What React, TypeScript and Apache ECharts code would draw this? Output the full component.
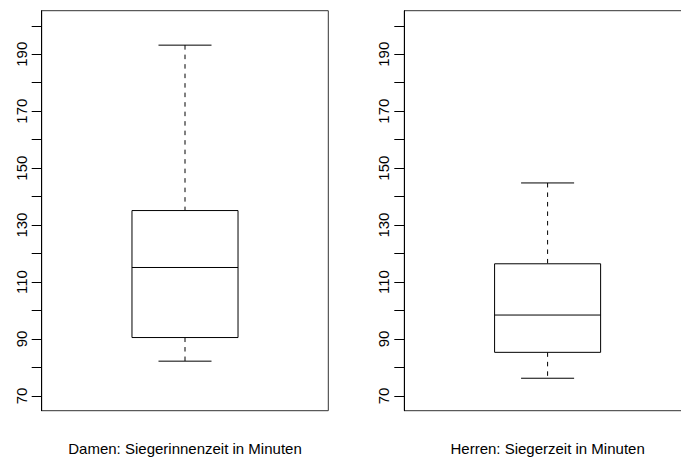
import React, { useEffect, useRef } from "react";
import * as echarts from "echarts";

const categoriesDamen = ["Damen: Siegerinnenzeit in Minuten"];
const categoriesHerren = ["Herren: Siegerzeit in Minuten"];
// [min whisker, Q1, median, Q3, max whisker]
const statsDamen = [82.2, 90.5, 115.1, 135.1, 193.2];
const statsHerren = [76.2, 85.3, 98.4, 116.4, 144.8];
const tickValues = [70, 80, 90, 100, 110, 120, 130, 140, 150, 160, 170, 180, 190, 200];
const labelValues = [70, 90, 110, 130, 150, 170, 190];
const yMin = 64.8;
const yMax = 205.3;

const FONT = "'Liberation Sans', Arial, Helvetica, sans-serif";
const STROKE = "#000";

function renderBox(params: any, api: any) {
  const x = api.value(0);
  const lo = api.coord([x, api.value(1)]);
  const q1 = api.coord([x, api.value(2)]);
  const med = api.coord([x, api.value(3)]);
  const q3 = api.coord([x, api.value(4)]);
  const hi = api.coord([x, api.value(5)]);
  const band = api.size([1, 0])[0];
  const bw = band * 0.37;
  const cw = bw * 0.5;
  const cx = med[0];
  const dash = { stroke: STROKE, lineWidth: 1, lineDash: [4.5, 5] };
  const solid = { stroke: STROKE, lineWidth: 1 };
  return {
    type: "group",
    children: [
      { type: "line", shape: { x1: cx, y1: hi[1], x2: cx, y2: q3[1] }, style: dash },
      { type: "line", shape: { x1: cx, y1: q1[1], x2: cx, y2: lo[1] }, style: dash },
      { type: "line", shape: { x1: cx - cw / 2, y1: hi[1], x2: cx + cw / 2, y2: hi[1] }, style: solid },
      { type: "line", shape: { x1: cx - cw / 2, y1: lo[1], x2: cx + cw / 2, y2: lo[1] }, style: solid },
      {
        type: "rect",
        shape: { x: cx - bw / 2, y: q3[1], width: bw, height: q1[1] - q3[1] },
        style: { fill: "#fff", stroke: STROKE, lineWidth: 1 },
      },
      { type: "line", shape: { x1: cx - bw / 2, y1: med[1], x2: cx + bw / 2, y2: med[1] }, style: solid },
    ],
  };
}

export default function App() {
  const ref = useRef<HTMLDivElement>(null);
  useEffect(() => {
    document.body.style.margin = "0";
    const chart = echarts.init(ref.current!, null, { renderer: "svg" });
    const grids = [
      { left: 41.7, top: 10.7, width: 286.6, height: 400 },
      { left: 404.3, top: 10.7, width: 286.6, height: 400 },
    ].map((g) => ({
      ...g,
      show: true,
      borderColor: "#333",
      borderWidth: 1,
      backgroundColor: "transparent",
      containLabel: false,
      outerBoundsMode: "none",
    }));

    const mkX = (idx: number, cats: string[]) => ({
      type: "category",
      gridIndex: idx,
      data: cats,
      axisLine: { show: false },
      axisTick: { show: false },
      axisLabel: { fontSize: 15, fontFamily: FONT, color: "#000", margin: 30 },
    });
    const mkY = (idx: number) => ({
      type: "value",
      gridIndex: idx,
      min: yMin,
      max: yMax,
      splitLine: { show: false },
      axisLine: { show: true, lineStyle: { color: "#000", width: 1 } },
      axisTick: { show: true, inside: false, length: 10, lineStyle: { color: "#000", width: 1 }, customValues: tickValues },
      axisLabel: {
        show: true,
        rotate: 90,
        margin: 13,
        fontSize: 15,
        fontFamily: FONT,
        color: "#000",
        customValues: labelValues,
      },
    });

    chart.setOption({
      animation: false,
      backgroundColor: "#fff",
      grid: grids,
      xAxis: [mkX(0, categoriesDamen), mkX(1, categoriesHerren)],
      yAxis: [mkY(0), mkY(1)],
      series: [
        {
          type: "custom",
          xAxisIndex: 0,
          yAxisIndex: 0,
          renderItem: renderBox,
          data: [[0, ...statsDamen]],
          clip: false,
        },
        {
          type: "custom",
          xAxisIndex: 1,
          yAxisIndex: 1,
          renderItem: renderBox,
          data: [[0, ...statsHerren]],
          clip: false,
        },
      ],
    });
    return () => chart.dispose();
  }, []);
  return <div ref={ref} style={{ position: "absolute", left: 0, top: 0, width: 681, height: 459 }} />;
}
